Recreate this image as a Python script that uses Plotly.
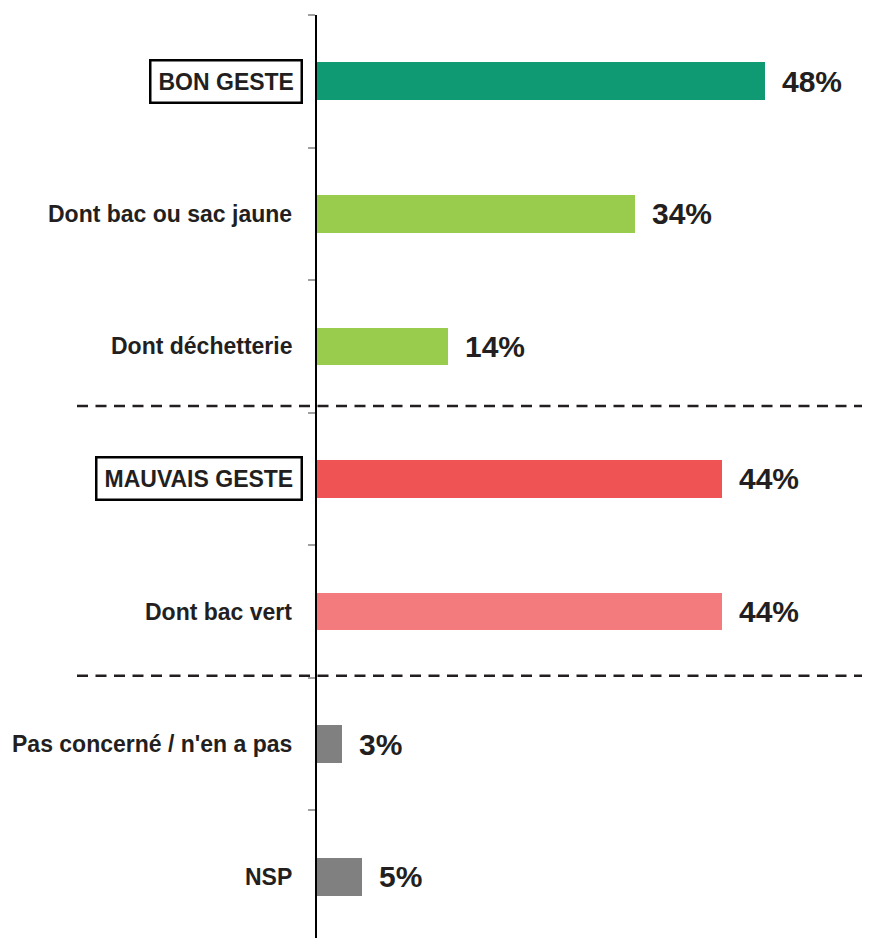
import plotly.graph_objects as go

categories = ["BON GESTE", "Dont bac ou sac jaune", "Dont déchetterie",
              "MAUVAIS GESTE", "Dont bac vert", "Pas concerné / n'en a pas", "NSP"]
values = [48.3, 34.3, 14.1, 43.7, 43.7, 2.7, 4.8]
value_labels = ["48%", "34%", "14%", "44%", "44%", "3%", "5%"]
boxed = [True, False, False, True, False, False, False]
colors = ["#109A74", "#99CC4C", "#99CC4C", "#F05354", "#F37B7E", "#808080", "#808080"]
separators = [2.45, 4.485]

FONT = "Liberation Sans, Arial, Helvetica, sans-serif"
TEXT_COLOR = "#231F20"

L, R, T, B = 309, 43, 7, 0
WIDTH, HEIGHT = 862, 931
PLOT_W = WIDTH - L - R

pos = list(range(len(categories)))

fig = go.Figure()
fig.add_trace(go.Bar(
    y=pos, x=values, orientation="h", width=0.285,
    marker=dict(color=colors, line=dict(width=0)),
    hoverinfo="skip", showlegend=False,
))

annotations = []
for i, (cat, b) in enumerate(zip(categories, boxed)):
    a = dict(xref="paper", x=0, yref="y", y=i, text=cat, showarrow=False,
             xanchor="right", yanchor="middle",
             font=dict(family=FONT, size=23, color=TEXT_COLOR, weight="bold"))
    if b:
        a.update(bordercolor="#000000", borderwidth=2.5, borderpad=7, xshift=-14.5,
                 bgcolor="rgba(255,255,255,0)")
    else:
        a.update(xshift=-23)
    annotations.append(a)

for i, (v, lab) in enumerate(zip(values, value_labels)):
    annotations.append(dict(xref="x", x=v, yref="y", y=i, text=lab, showarrow=False,
                            xanchor="left", yanchor="middle", xshift=15,
                            font=dict(family=FONT, size=30, color=TEXT_COLOR, weight="bold")))

shapes = []
for s in separators:
    shapes.append(dict(type="line", xref="paper", x0=-240 / PLOT_W, x1=(WIDTH - L) / PLOT_W,
                       yref="y", y0=s, y1=s,
                       line=dict(color=TEXT_COLOR, width=2.5, dash="11px,7.5px")))

fig.update_layout(
    width=WIDTH, height=HEIGHT,
    margin=dict(l=L, r=R, t=T, b=B),
    paper_bgcolor="white", plot_bgcolor="white",
    bargap=0,
    xaxis=dict(range=[0, 55], visible=False, fixedrange=True),
    yaxis=dict(range=[6.47, -0.5], showgrid=False, zeroline=False,
               showline=True, linecolor="#000000", linewidth=1.5,
               tickmode="array", tickvals=[k - 0.5 for k in range(7)],
               ticktext=[""] * 7, ticks="outside", ticklen=7, tickwidth=1.5,
               tickcolor="#A0A0A0", showticklabels=False),
    annotations=annotations,
    shapes=shapes,
)

fig.write_html("out.html")
